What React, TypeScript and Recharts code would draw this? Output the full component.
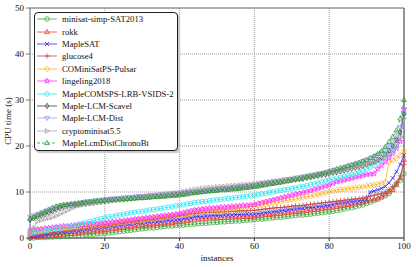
import React from 'react'
import { LineChart, Line, XAxis, YAxis, CartesianGrid, Legend, ReferenceLine } from 'recharts'

// CPU time (s) per instance, sorted, one list per solver
const minisatSimp = [
  0.0, 0.0, 0.1, 0.1, 0.1, 0.2, 0.2, 0.3, 0.3, 0.4,
  0.4, 0.5, 0.5, 0.6, 0.6, 0.7, 0.7, 0.8, 0.9, 0.9,
  1.0, 1.1, 1.2, 1.3, 1.4, 1.5, 1.6, 1.7, 1.8, 1.9,
  2.0, 2.1, 2.2, 2.2, 2.3, 2.4, 2.5, 2.6, 2.6, 2.7,
  2.8, 2.8, 2.9, 3.0, 3.0, 3.1, 3.2, 3.2, 3.3, 3.4,
  3.4, 3.5, 3.5, 3.6, 3.6, 3.7, 3.7, 3.8, 3.9, 3.9,
  4.0, 4.1, 4.1, 4.2, 4.3, 4.4, 4.5, 4.5, 4.6, 4.7,
  4.8, 4.9, 5.0, 5.0, 5.1, 5.2, 5.3, 5.4, 5.5, 5.6,
  5.7, 5.8, 6.0, 6.1, 6.3, 6.5, 6.6, 6.8, 7.0, 7.2,
  7.5, 7.8, 8.1, 8.4, 8.8, 9.2, 9.7, 10.6, 11.8, 12.5, 14.0,
]
const rokk = [
  0.1, 0.2, 0.2, 0.3, 0.4, 0.5, 0.5, 0.6, 0.7, 0.8,
  0.9, 0.9, 1.0, 1.1, 1.2, 1.3, 1.3, 1.4, 1.5, 1.6,
  1.7, 1.8, 1.9, 2.0, 2.1, 2.2, 2.3, 2.4, 2.5, 2.6,
  2.6, 2.7, 2.8, 2.9, 3.0, 3.0, 3.1, 3.2, 3.3, 3.4,
  3.5, 3.6, 3.7, 3.9, 4.0, 4.1, 4.2, 4.2, 4.3, 4.3,
  4.3, 4.4, 4.4, 4.4, 4.5, 4.5, 4.5, 4.6, 4.6, 4.6,
  4.7, 4.8, 4.9, 5.0, 5.0, 5.1, 5.2, 5.3, 5.4, 5.5,
  5.6, 5.6, 5.7, 5.8, 5.9, 6.0, 6.1, 6.2, 6.3, 6.5,
  6.6, 6.7, 6.8, 6.9, 7.0, 7.2, 7.3, 7.5, 7.6, 7.8,
  8.0, 8.2, 8.4, 8.6, 9.0, 9.5, 10.0, 10.4, 11.5, 13.0, 17.0,
]
const mapleSat = [
  0.3, 0.4, 0.5, 0.6, 0.7, 0.8, 0.9, 1.0, 1.1, 1.2,
  1.3, 1.4, 1.5, 1.6, 1.7, 1.8, 1.9, 2.0, 2.1, 2.2,
  2.3, 2.4, 2.5, 2.6, 2.7, 2.8, 2.9, 3.0, 3.1, 3.2,
  3.2, 3.3, 3.4, 3.5, 3.5, 3.6, 3.7, 3.8, 3.9, 3.9,
  4.0, 4.2, 4.3, 4.4, 4.6, 4.7, 4.7, 4.8, 4.8, 4.9,
  4.9, 4.9, 5.0, 5.0, 5.0, 5.1, 5.1, 5.1, 5.2, 5.2,
  5.2, 5.3, 5.4, 5.5, 5.6, 5.7, 5.8, 5.9, 6.0, 6.1,
  6.2, 6.3, 6.4, 6.5, 6.6, 6.6, 6.7, 6.8, 6.9, 7.0,
  7.1, 7.3, 7.5, 7.6, 7.7, 7.8, 7.9, 8.0, 8.1, 8.2,
  8.3, 10.0, 10.2, 10.5, 10.8, 11.2, 12.0, 13.0, 14.4, 16.0, 18.0,
]
const glucose4 = [
  0.5, 0.6, 0.7, 0.8, 0.9, 1.0, 1.2, 1.3, 1.4, 1.5,
  1.6, 1.7, 1.8, 1.9, 2.0, 2.1, 2.2, 2.3, 2.4, 2.5,
  2.6, 2.7, 2.8, 2.9, 3.1, 3.2, 3.3, 3.4, 3.5, 3.6,
  3.7, 3.8, 3.9, 4.0, 4.1, 4.2, 4.3, 4.4, 4.5, 4.6,
  4.8, 4.9, 5.0, 5.2, 5.3, 5.4, 5.5, 5.5, 5.6, 5.6,
  5.6, 5.7, 5.7, 5.7, 5.8, 5.8, 5.9, 5.9, 5.9, 6.0,
  6.0, 6.1, 6.2, 6.3, 6.4, 6.5, 6.6, 6.6, 6.7, 6.8,
  6.9, 7.0, 7.0, 7.1, 7.2, 7.3, 7.4, 7.5, 7.6, 7.7,
  7.8, 7.9, 8.0, 8.1, 8.2, 8.3, 8.4, 8.5, 8.6, 8.7,
  8.9, 9.1, 9.3, 9.5, 9.7, 10.0, 10.5, 11.2, 12.0, 13.5, 16.0,
]
const comsPulsar = [
  1.3, 1.4, 1.5, 1.6, 1.6, 1.7, 1.8, 1.9, 2.0, 2.1,
  2.1, 2.2, 2.3, 2.3, 2.4, 2.5, 2.5, 2.6, 2.7, 2.8,
  2.9, 3.0, 3.1, 3.2, 3.3, 3.4, 3.5, 3.6, 3.7, 3.8,
  3.9, 4.0, 4.1, 4.2, 4.3, 4.4, 4.5, 4.6, 4.7, 4.8,
  4.9, 5.0, 5.2, 5.3, 5.5, 5.6, 5.7, 5.8, 5.8, 5.9,
  6.0, 6.1, 6.1, 6.2, 6.3, 6.4, 6.5, 6.6, 6.7, 6.8,
  6.9, 7.0, 7.2, 7.3, 7.5, 7.6, 7.8, 7.9, 8.1, 8.2,
  8.4, 8.5, 8.7, 8.8, 9.0, 9.1, 9.3, 9.5, 9.6, 9.8,
  10.0, 10.2, 10.4, 10.5, 10.6, 10.7, 10.8, 10.9, 11.0, 11.1,
  11.3, 11.4, 11.5, 11.7, 11.9, 12.2, 16.5, 16.9, 17.3, 18.0, 19.0,
]
const lingeling = [
  1.7, 1.8, 1.9, 2.0, 2.1, 2.2, 2.3, 2.4, 2.5, 2.6,
  2.6, 2.7, 2.7, 2.8, 2.9, 2.9, 3.0, 3.1, 3.1, 3.2,
  3.3, 3.4, 3.5, 3.6, 3.7, 3.8, 3.9, 4.0, 4.1, 4.2,
  4.3, 4.4, 4.5, 4.6, 4.7, 4.8, 4.9, 5.0, 5.1, 5.2,
  5.3, 5.5, 5.7, 5.9, 6.1, 6.2, 6.3, 6.4, 6.5, 6.5,
  6.6, 6.7, 6.7, 6.8, 6.9, 6.9, 7.0, 7.1, 7.1, 7.2,
  7.3, 7.5, 7.7, 7.9, 8.1, 8.3, 8.5, 8.7, 8.9, 9.1,
  9.3, 9.5, 9.7, 9.9, 10.1, 10.3, 10.6, 10.8, 11.0, 11.3,
  11.5, 11.9, 12.2, 12.4, 12.6, 12.8, 13.0, 13.2, 13.4, 13.6,
  13.8, 13.9, 14.0, 15.0, 15.8, 16.6, 17.5, 18.4, 19.5, 21.0, 28.0,
]
const lrbVsids = [
  1.0, 1.1, 1.3, 1.4, 1.6, 1.7, 1.9, 2.0, 2.1, 2.3,
  2.4, 2.6, 2.8, 3.0, 3.2, 3.4, 3.6, 3.8, 4.0, 4.2,
  4.4, 4.6, 4.7, 4.9, 5.0, 5.2, 5.3, 5.5, 5.6, 5.7,
  5.8, 5.9, 6.1, 6.2, 6.3, 6.4, 6.6, 6.7, 6.8, 7.0,
  7.1, 7.2, 7.4, 7.5, 7.7, 7.8, 7.9, 8.0, 8.1, 8.2,
  8.3, 8.4, 8.5, 8.6, 8.7, 8.8, 8.9, 9.0, 9.1, 9.2,
  9.3, 9.4, 9.6, 9.7, 9.9, 10.0, 10.2, 10.3, 10.5, 10.6,
  10.8, 10.9, 11.1, 11.2, 11.4, 11.6, 11.8, 12.0, 12.2, 12.4,
  12.6, 12.8, 13.0, 13.2, 13.4, 13.6, 13.8, 14.0, 14.3, 14.6,
  15.0, 15.4, 15.8, 16.3, 16.8, 17.6, 18.5, 19.3, 20.3, 22.0, 27.0,
]
const lcmScavel = [
  4.0, 4.3, 4.6, 4.9, 5.2, 5.5, 5.8, 6.2, 6.5, 6.8,
  7.0, 7.1, 7.2, 7.3, 7.4, 7.5, 7.6, 7.7, 7.8, 7.9,
  8.0, 8.1, 8.2, 8.3, 8.4, 8.4, 8.5, 8.6, 8.7, 8.8,
  8.8, 8.9, 9.0, 9.1, 9.1, 9.2, 9.3, 9.4, 9.4, 9.5,
  9.6, 9.7, 9.8, 9.9, 9.9, 10.0, 10.1, 10.2, 10.3, 10.4,
  10.5, 10.6, 10.7, 10.7, 10.8, 10.9, 11.0, 11.1, 11.2, 11.3,
  11.4, 11.5, 11.6, 11.8, 11.9, 12.0, 12.1, 12.2, 12.3, 12.5,
  12.6, 12.7, 12.8, 12.9, 13.1, 13.2, 13.4, 13.5, 13.7, 13.8,
  14.0, 14.2, 14.3, 14.5, 14.7, 14.9, 15.1, 15.3, 15.5, 15.7,
  16.0, 16.3, 16.6, 17.0, 17.5, 18.2, 19.0, 20.0, 21.3, 23.0, 27.0,
]
const lcmDist = [
  4.6, 4.9, 5.2, 5.5, 5.8, 6.1, 6.4, 6.7, 7.0, 7.2,
  7.3, 7.4, 7.5, 7.6, 7.8, 7.9, 8.0, 8.1, 8.2, 8.3,
  8.4, 8.5, 8.6, 8.6, 8.7, 8.8, 8.9, 8.9, 9.0, 9.1,
  9.1, 9.2, 9.3, 9.3, 9.4, 9.5, 9.6, 9.6, 9.7, 9.8,
  9.8, 9.9, 10.0, 10.0, 10.1, 10.2, 10.3, 10.4, 10.5, 10.6,
  10.7, 10.8, 10.9, 10.9, 11.0, 11.1, 11.2, 11.3, 11.4, 11.5,
  11.6, 11.7, 11.9, 12.0, 12.1, 12.3, 12.4, 12.5, 12.7, 12.8,
  12.9, 13.1, 13.2, 13.4, 13.5, 13.7, 13.8, 14.0, 14.1, 14.3,
  14.5, 14.7, 14.9, 15.1, 15.4, 15.6, 15.9, 16.1, 16.4, 16.7,
  17.0, 17.3, 17.7, 18.1, 18.6, 19.2, 20.0, 21.0, 22.3, 24.0, 28.0,
]
const cryptominisat = [
  0.8, 2.2, 3.6, 3.9, 4.1, 4.3, 4.5, 4.8, 5.2, 5.6,
  6.0, 6.4, 6.8, 7.0, 7.2, 7.4, 7.5, 7.6, 7.8, 7.9,
  8.0, 8.1, 8.2, 8.3, 8.4, 8.5, 8.6, 8.7, 8.8, 8.8,
  8.9, 9.0, 9.1, 9.2, 9.3, 9.4, 9.5, 9.6, 9.7, 9.8,
  9.9, 10.1, 10.2, 10.4, 10.6, 10.7, 10.8, 10.9, 11.0, 11.0,
  11.1, 11.2, 11.2, 11.3, 11.4, 11.4, 11.5, 11.6, 11.6, 11.7,
  11.8, 11.9, 12.0, 12.1, 12.2, 12.3, 12.4, 12.5, 12.6, 12.7,
  12.8, 12.9, 13.0, 13.1, 13.3, 13.4, 13.5, 13.7, 13.8, 14.0,
  14.1, 14.3, 14.4, 14.6, 14.8, 14.9, 15.1, 15.3, 15.5, 15.7,
  16.0, 16.2, 16.5, 16.8, 17.1, 17.5, 18.0, 18.8, 20.0, 22.0, 26.0,
]
const chronoBt = [
  4.2, 4.6, 5.0, 5.4, 5.8, 6.2, 6.6, 6.9, 7.1, 7.2,
  7.3, 7.4, 7.5, 7.6, 7.7, 7.8, 7.9, 8.0, 8.1, 8.1,
  8.2, 8.3, 8.3, 8.4, 8.4, 8.5, 8.5, 8.6, 8.6, 8.7,
  8.7, 8.8, 8.8, 8.9, 8.9, 9.0, 9.0, 9.1, 9.2, 9.2,
  9.3, 9.4, 9.5, 9.7, 9.8, 9.9, 10.0, 10.1, 10.2, 10.2,
  10.3, 10.4, 10.4, 10.5, 10.6, 10.6, 10.7, 10.8, 10.9, 11.0,
  11.1, 11.2, 11.4, 11.5, 11.7, 11.8, 12.0, 12.1, 12.3, 12.4,
  12.6, 12.8, 12.9, 13.1, 13.3, 13.4, 13.6, 13.8, 14.0, 14.2,
  14.4, 14.7, 15.0, 15.2, 15.4, 15.7, 15.9, 16.2, 16.4, 16.7,
  17.0, 17.4, 17.8, 18.3, 18.9, 19.8, 20.9, 22.0, 23.4, 26.0, 30.0,
]

const xTicks = [0, 20, 40, 60, 80, 100]
const yTicks = [0, 10, 20, 30, 40, 50]

const SERIES = [
  { key: 'minisat', name: 'minisat-simp-SAT2013', values: minisatSimp, color: '#3aa83a', shape: 'circle', dash: undefined },
  { key: 'rokk', name: 'rokk', values: rokk, color: '#f03a3a', shape: 'triUp', dash: undefined },
  { key: 'maplesat', name: 'MapleSAT', values: mapleSat, color: '#2a2aff', shape: 'x', dash: undefined },
  { key: 'glucose', name: 'glucose4', values: glucose4, color: '#c04848', shape: 'plus', dash: undefined },
  { key: 'pulsar', name: 'COMiniSatPS-Pulsar', values: comsPulsar, color: '#ffb020', shape: 'diamond', dash: undefined },
  { key: 'lingeling', name: 'lingeling2018', values: lingeling, color: '#ff30ff', shape: 'star', dash: undefined },
  { key: 'lrb', name: 'MapleCOMSPS-LRB-VSIDS-2', values: lrbVsids, color: '#30e8f0', shape: 'circle', dash: undefined },
  { key: 'scavel', name: 'Maple-LCM-Scavel', values: lcmScavel, color: '#404040', shape: 'thinDiamond', dash: undefined },
  { key: 'dist', name: 'Maple-LCM-Dist', values: lcmDist, color: '#9a9aff', shape: 'triDown', dash: undefined },
  { key: 'crypto', name: 'cryptominisat5.5', values: cryptominisat, color: '#a8a8a8', shape: 'triRight', dash: undefined },
  { key: 'chrono', name: 'MapleLcmDistChronoBt', values: chronoBt, color: '#2ca02c', shape: 'triUp', dash: '3 2' },
]

const data = minisatSimp.map((_, i) => {
  const row: { [k: string]: number } = { i }
  SERIES.forEach(s => { row[s.key] = s.values[i] })
  return row
})

const FONT = '"Liberation Serif", "Times New Roman", serif'

function starPath(r: number) {
  const pts: string[] = []
  for (let k = 0; k < 10; k++) {
    const rad = k % 2 === 0 ? r : r * 0.45
    const a = -Math.PI / 2 + (k * Math.PI) / 5
    pts.push(`${(rad * Math.cos(a)).toFixed(2)},${(rad * Math.sin(a)).toFixed(2)}`)
  }
  return 'M' + pts.join('L') + 'Z'
}

function Marker({ cx, cy, shape, color }: { cx: number; cy: number; shape: string; color: string }) {
  const common = { fill: 'none', stroke: color, strokeWidth: 0.8 }
  let el: React.ReactNode = null
  switch (shape) {
    case 'circle': el = <circle r={2.3} {...common} />; break
    case 'triUp': el = <path d="M0,-2.6L2.4,1.6L-2.4,1.6Z" {...common} />; break
    case 'triDown': el = <path d="M0,2.6L2.4,-1.6L-2.4,-1.6Z" {...common} />; break
    case 'triRight': el = <path d="M2.6,0L-1.6,2.4L-1.6,-2.4Z" {...common} />; break
    case 'x': el = <path d="M-2,-2L2,2M-2,2L2,-2" {...common} />; break
    case 'plus': el = <path d="M-2.6,0L2.6,0M0,-2.6L0,2.6" {...common} />; break
    case 'diamond': el = <path d="M0,-2.8L2.8,0L0,2.8L-2.8,0Z" {...common} />; break
    case 'thinDiamond': el = <path d="M0,-2.8L1.7,0L0,2.8L-1.7,0Z" {...common} />; break
    case 'star': el = <path d={starPath(2.8)} {...common} />; break
  }
  return <g transform={`translate(${cx},${cy})`}>{el}</g>
}

function LegendBox() {
  return (
    <div style={{
      width: 142, height: 137, border: '1px solid #222', borderRadius: 4, background: '#fff',
      boxShadow: '2px 2px 1px #c8c8c8', fontFamily: FONT, fontSize: 8.7, color: '#111', boxSizing: 'content-box',
    }}>
      {SERIES.map(s => (
        <div key={s.key} style={{ height: 12.4, display: 'flex', alignItems: 'center', whiteSpace: 'nowrap' }}>
          <svg width={24} height={12} style={{ marginLeft: 1, flex: 'none' }}>
            <line x1={1} y1={6} x2={21} y2={6} stroke={s.color} strokeWidth={0.8} strokeDasharray={s.dash} />
            <Marker cx={11} cy={6} shape={s.shape} color={s.color} />
          </svg>
          <span style={{ marginLeft: 2 }}>{s.name}</span>
        </div>
      ))}
    </div>
  )
}

export default function App() {
  return (
    <div style={{ position: 'absolute', left: 0, top: 0, width: 416, height: 267, background: '#fff' }}>
      <LineChart width={416} height={267} data={data} margin={{ top: 8, right: 12, bottom: 0, left: 0 }}>
        <CartesianGrid stroke="#888" strokeDasharray="1 1" strokeWidth={0.8} />
        <XAxis
          dataKey="i" type="number" domain={[0, 100]} ticks={xTicks} height={29}
          tick={{ fontFamily: FONT, fontSize: 9, fill: '#111' }} tickSize={3}
          stroke="#333" interval={0}
          label={{ value: 'instances', position: 'insideBottom', offset: 6, style: { fontFamily: FONT, fontSize: 9, fill: '#111' } }}
        />
        <YAxis
          type="number" domain={[0, 50]} ticks={yTicks} width={30} interval={0}
          tick={{ fontFamily: FONT, fontSize: 9, fill: '#111' }} tickSize={4} stroke="#777"
          label={{
            content: () => (
              <text transform="translate(11,121) rotate(-90)" textAnchor="middle" style={{ fontFamily: FONT, fontSize: 9, fill: '#111' }}>
                CPU time (s)
              </text>
            ),
          }}
        />
        <ReferenceLine y={50} stroke="#777" strokeWidth={1} />
        <ReferenceLine x={100} stroke="#777" strokeWidth={1.5} />
        {SERIES.map(s => (
          <Line
            key={s.key} dataKey={s.key} name={s.name} type="linear" stroke={s.color} strokeWidth={0.8}
            strokeDasharray={s.dash} isAnimationActive={false}
            dot={(p: any) => <Marker key={`${s.key}-${p.index}`} cx={p.cx} cy={p.cy} shape={s.shape} color={s.color} />}
            activeDot={false}
          />
        ))}
        <Legend
          layout="vertical" align="center" verticalAlign="middle"
          wrapperStyle={{ left: 34, top: 12, width: 'auto' }}
          content={() => <LegendBox />}
        />
      </LineChart>
    </div>
  )
}
